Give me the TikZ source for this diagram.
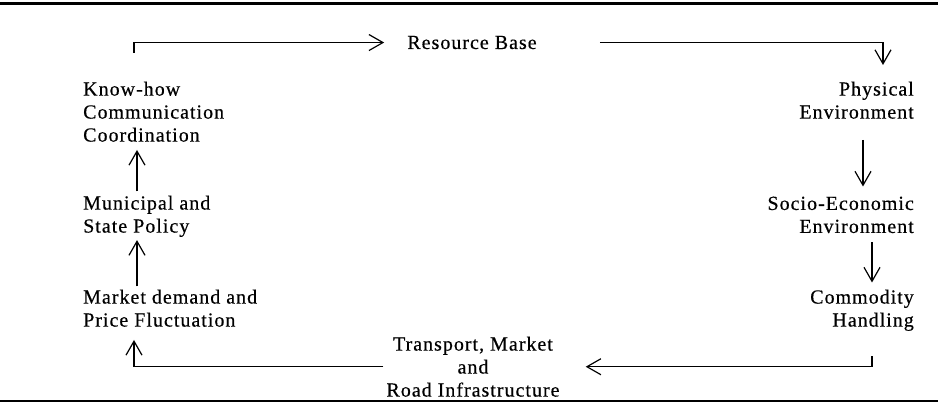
\documentclass[tikz,border=0pt]{standalone}
\usepackage{fontspec}
\setmainfont{Liberation Serif}[LetterSpace=5, FakeBold=0.4]
\usetikzlibrary{arrows.meta}

\begin{document}
\begin{tikzpicture}[x=1pt, y=-1pt,
    box/.style = {inner sep=0pt, font=\fontsize{20}{23}\selectfont},
    lbox/.style = {box, anchor=north west, align=left},
    rbox/.style = {box, anchor=north east, align=right},
    flow/.style = {line width=1.2pt, -{Straight Barb[length=14pt, width=16pt]}}]
  \useasboundingbox (0,0) rectangle (938,403);
  % Draw the rules
  \draw[line width=2.5pt] (0,3.5) -- (938,3.5);
  \draw[line width=2pt] (0,401.5) -- (938,401.5);
  % Columns the vertical arrows run in
  \coordinate (lcol) at (134,0);
  \coordinate (mcol) at (137,0);
  \coordinate (rcolA) at (863,0);
  \coordinate (rcolB) at (872,0);
  \coordinate (kstart) at (134,53);
  \coordinate (ptip) at (883,65);
  % Draw the stages
  \node[box, anchor=base] (base) at (472,49) {Resource Base};
  \node[rbox] (phys) at (914,81.5) {Physical\\Environment};
  \node[rbox] (socio) at (914,196.5) {Socio-Economic\\Environment};
  \node[rbox] (comm) at (914,289.5) {Commodity\\Handling};
  \node[box, anchor=north, align=center] (trans) at (473,336.5) {Transport, Market\\and\\Road Infrastructure};
  \node[lbox] (market) at (83,289.5) {Market demand and\\Price Fluctuation};
  \node[lbox] (policy) at (83,195.5) {Municipal and\\State Policy};
  \node[lbox] (know) at (83,81.5) {Know-how\\Communication\\Coordination};
  % Draw the arrows
  \draw[flow] (kstart) |- ([xshift=-23pt]base.west);
  \draw[flow] ([xshift=63pt]base.east) -| (ptip);
  \draw[flow] ([yshift=-21pt]phys.south -| rcolA) -- ([yshift=10pt]socio.north -| rcolA);
  \draw[flow] ([yshift=-9pt]socio.south -| rcolB) -- ([yshift=7pt]comm.north -| rcolB);
  \draw[flow] ([yshift=-25pt]comm.south -| rcolB) |- ([xshift=26pt]trans.east);
  \draw[flow] ([xshift=-3pt]trans.west) -| ([yshift=-13pt]market.south -| lcol);
  \draw[flow] ([yshift=3pt]market.north -| mcol) -- ([yshift=-3pt]policy.south -| mcol);
  \draw[flow] ([yshift=4pt]policy.north -| mcol) -- ([yshift=-8pt]know.south -| mcol);
\end{tikzpicture}
\end{document}
